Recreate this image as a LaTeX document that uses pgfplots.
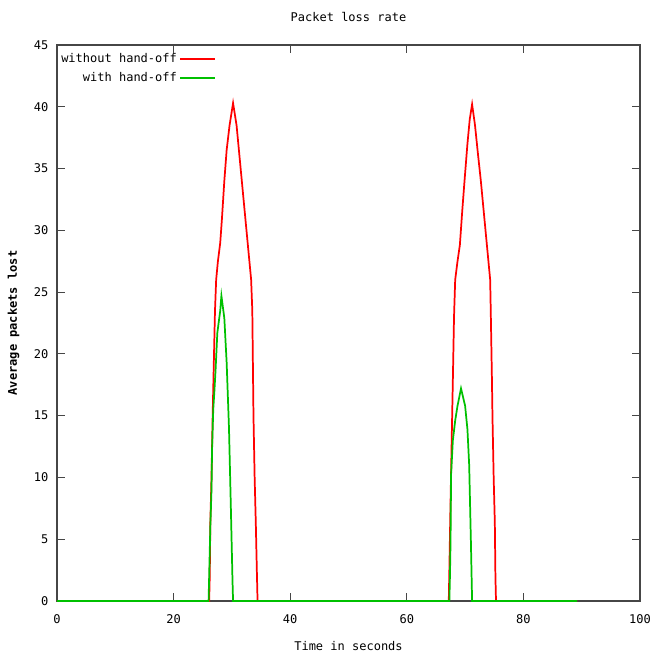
\documentclass[border=0pt]{standalone}
\usepackage{fontspec}
\setmainfont{DejaVu Sans Mono}
\usepackage{pgfplots}
\pgfplotsset{compat=1.18}
\definecolor{gpred}{RGB}{255,0,0}
\definecolor{gpgreen}{RGB}{0,192,0}
\definecolor{frame}{RGB}{70,70,70}

\begin{document}
\begin{tikzpicture}
  \useasboundingbox (0pt,0pt) rectangle (489.75pt,492.75pt);
  \begin{axis}[
    at={(42.75pt,42pt)}, anchor=south west,
    scale only axis,
    width=437.25pt, height=417pt,
    xmin=0, xmax=100, ymin=0, ymax=45,
    xtick={0,20,...,100}, ytick={0,5,...,45},
    tick align=inside,
    major tick length=6pt,
    axis line style={draw=frame, line width=0.9pt},
    tick style={draw=frame, line width=0.6pt},
    font=\fontsize{9}{10}\selectfont,
    ticklabel style={font=\fontsize{9}{10}\selectfont},
    xticklabel style={yshift=-7pt},
    yticklabel style={xshift=-3pt},
    /pgf/number format/assume math mode=true,
    title={Packet loss rate},
    title style={yshift=8pt},
    xlabel={Time in seconds},
    ylabel={\bfseries Average packets lost},
    xlabel style={yshift=-6pt},
    ylabel style={yshift=4pt},
    legend cell align=right,
    legend plot pos=right,
    legend style={draw=none, fill=none, at={(0,0.995)}, anchor=north west,
      xshift=-2pt,
      font=\fontsize{9}{10}\selectfont, row sep=2pt,
      /tikz/every even column/.append style={column sep=2pt}},
    legend image code/.code={\draw[#1,line width=1.4pt] (0cm,0cm) -- (0.9cm,0cm);},
  ]
    \addplot[gpred, line width=1.3pt] coordinates {
      (0,0)(26.1,0)(26.2,2)(26.3,6.3)(26.5,10)(26.7,15)(26.9,19.3)(27.1,23.5)
      (27.3,26)(27.6,27.5)(28,29)(28.3,31)(28.7,34)(29.1,36.5)(29.6,38.5)
      (30.2,40.3)(30.8,38.5)(31.2,36.5)(31.7,34)(32.3,31)(32.8,28.5)(33.3,26)
      (33.5,23.5)(33.7,15)(33.9,10)(34.1,6.3)(34.3,2)(34.4,0)
      (67.2,0)(67.3,2.5)(67.5,7.9)(67.7,13)(67.9,17.9)(68.1,23)(68.3,26)
      (68.7,27.5)(69.1,28.8)(69.5,31.5)(69.9,34)(70.4,37)(70.8,39)(71.2,40.2)
      (71.7,38.5)(72.2,36.2)(72.7,34)(73.3,31)(73.8,28.5)(74.3,26)(74.4,23.5)
      (74.6,18)(74.7,14.8)(74.9,10)(75.1,6.3)(75.2,2)(75.3,0)(89.2,0)
    };
    \addlegendentry{without hand-off}
    \addplot[gpgreen, line width=1.3pt] coordinates {
      (0,0)(26.0,0)(26.1,2)(26.3,6)(26.5,9)(26.6,12.3)(26.8,15.5)(27.0,17)
      (27.2,18.7)(27.5,21.7)(28,23.5)(28.2,24.7)(28.7,22.9)(29.1,19.3)
      (29.5,14)(29.8,8)(30.1,1.7)(30.2,0)
      (67.3,0)(67.4,2)(67.5,4.7)(67.6,10.3)(67.9,13)(68.3,14.6)(68.7,15.8)
      (69.3,17.2)(70,15.8)(70.4,13.9)(70.7,11)(71.0,4.7)(71.2,0)(89.2,0)
    };
    \addlegendentry{with hand-off}
  \end{axis}
\end{tikzpicture}
\end{document}
